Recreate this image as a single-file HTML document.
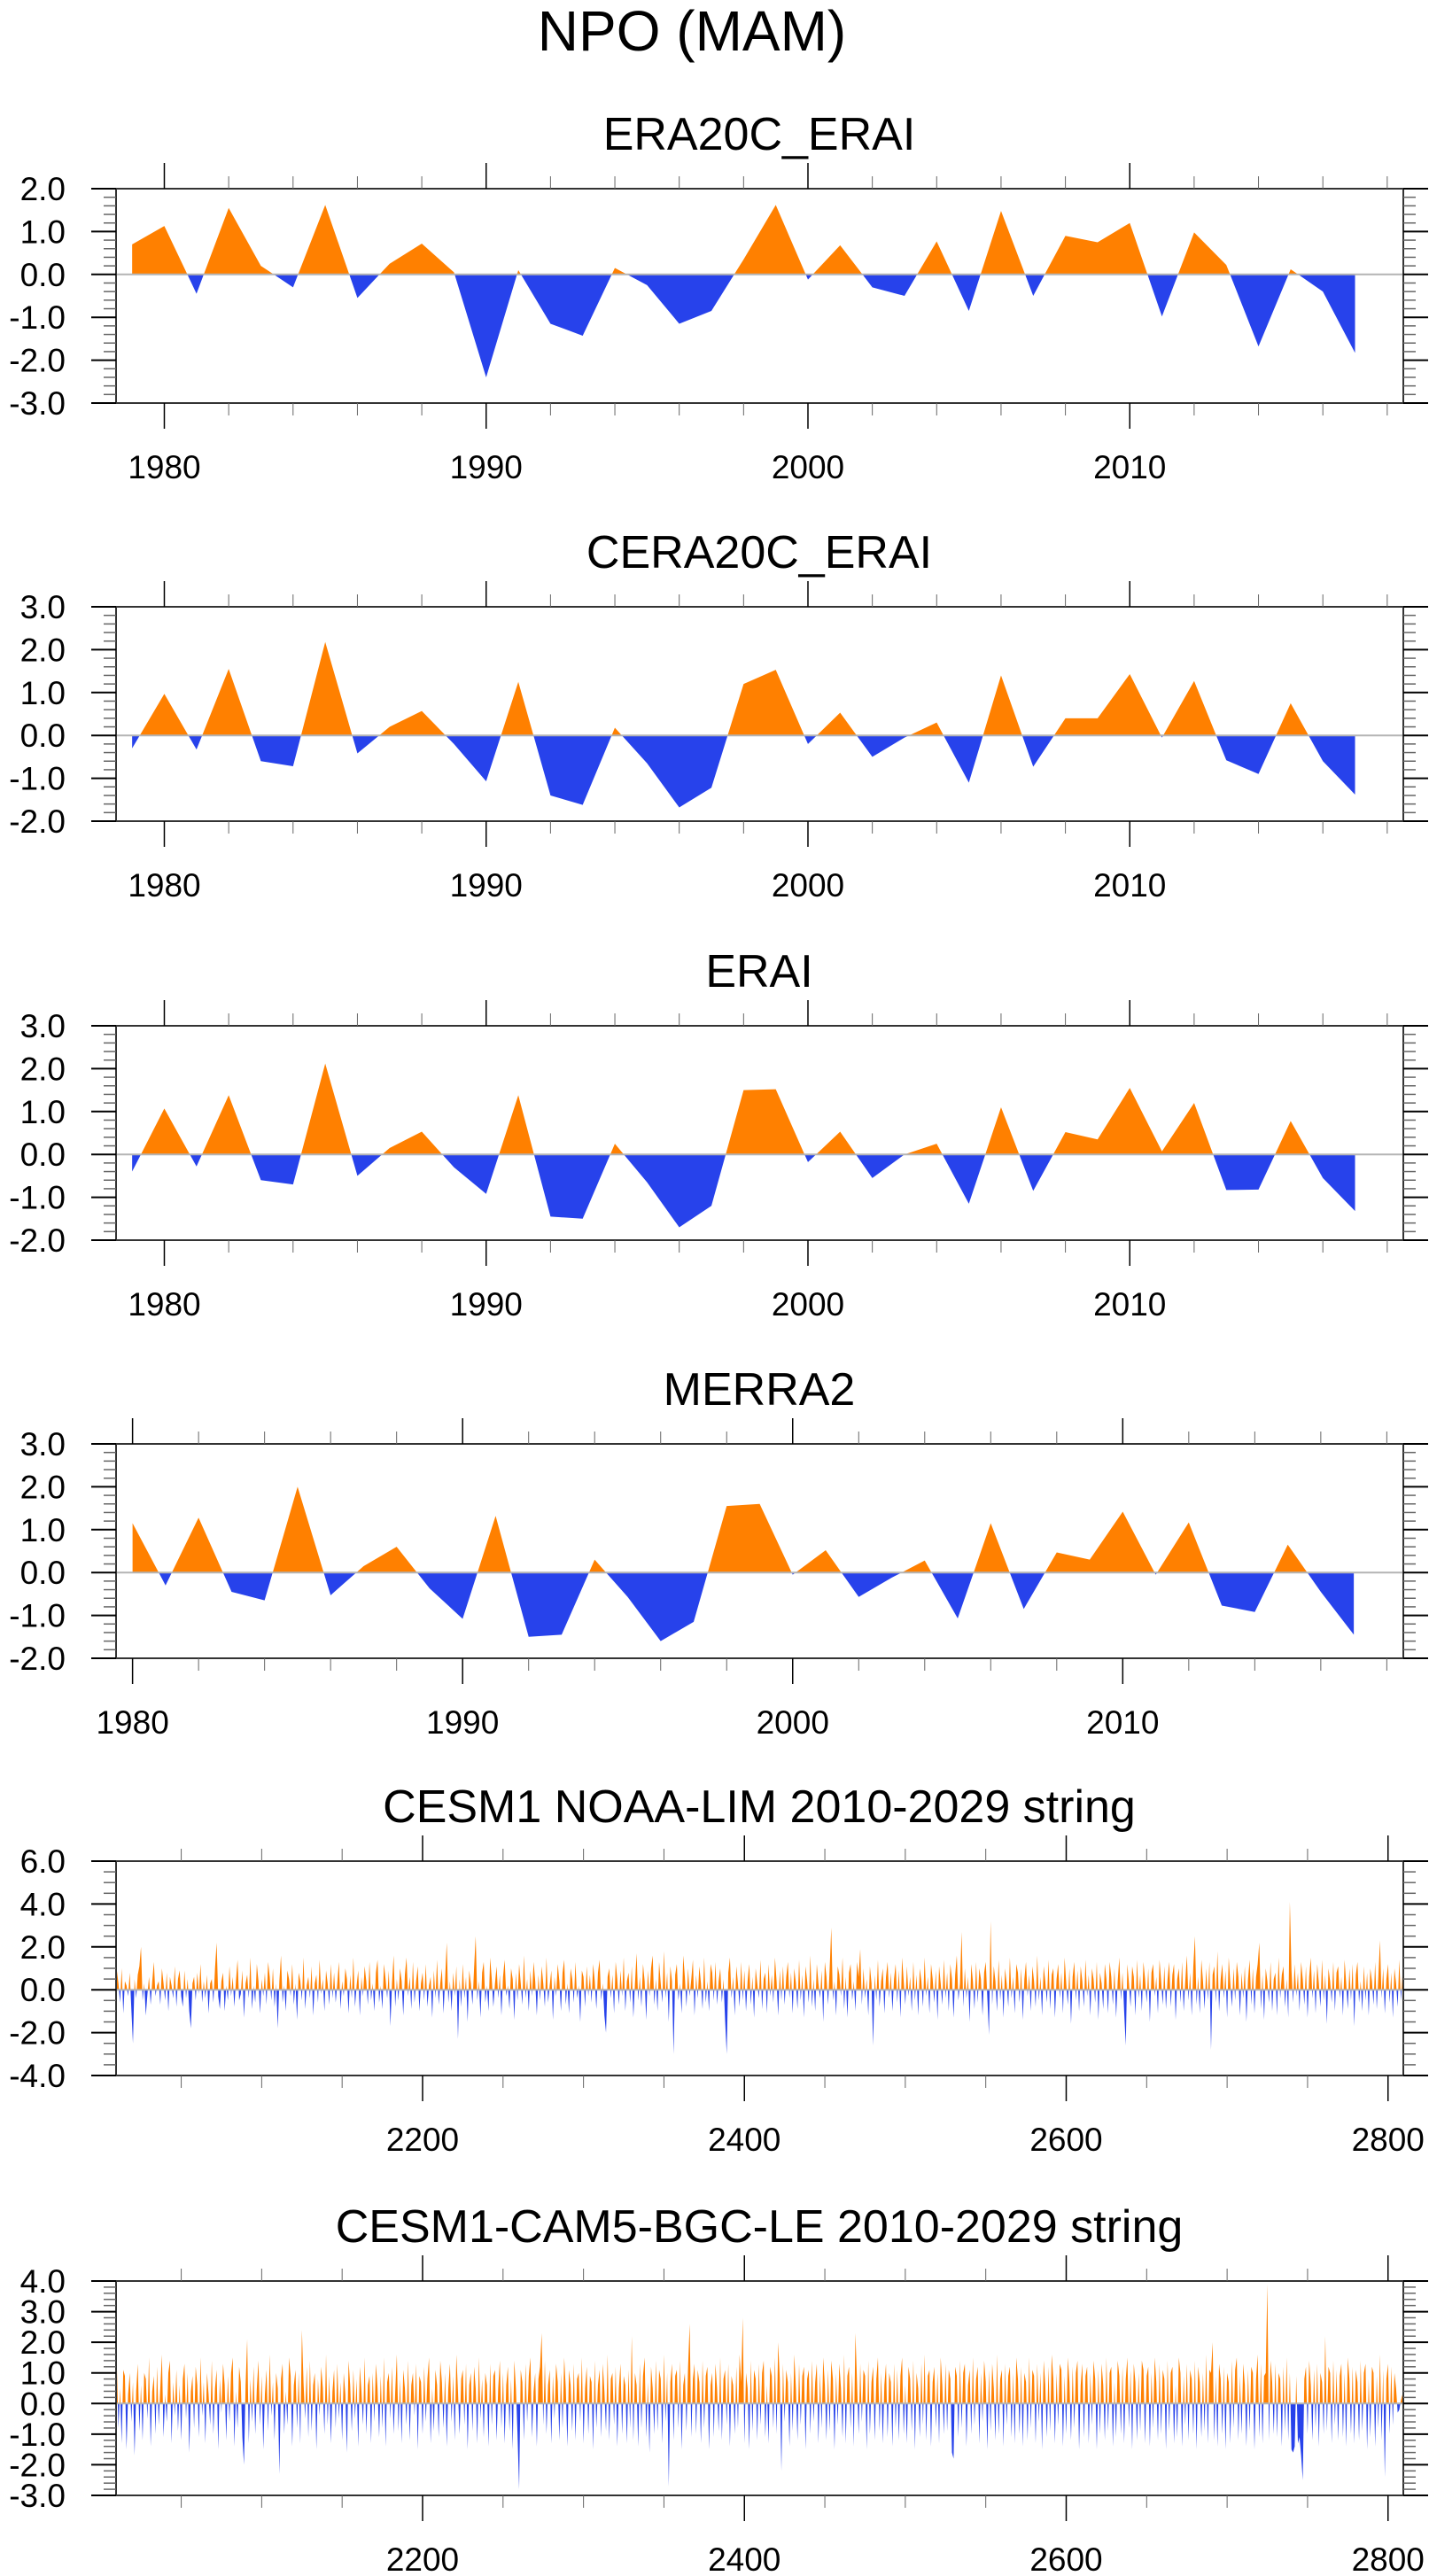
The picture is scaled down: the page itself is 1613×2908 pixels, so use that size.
<!DOCTYPE html>
<html><head><meta charset="utf-8"><style>
html,body{margin:0;padding:0;background:#fff;}
svg{display:block;font-family:"Liberation Sans",sans-serif;}
</style></head><body>
<svg id="chart" xmlns="http://www.w3.org/2000/svg" width="1613" height="2908" viewBox="0 0 1613 2908">
<rect width="1613" height="2908" fill="#fff"/>
<text x="781" y="57" font-size="64" text-anchor="middle" fill="#000">NPO (MAM)</text>
</svg>
<script>
// ---- data ----
const p1Years = [1979,1980,1981,1982,1983,1984,1985,1986,1987,1988,1989,1990,1991,1992,1993,1994,1995,1996,1997,1998,1999,2000,2001,2002,2003,2004,2005,2006,2007,2008,2009,2010,2011,2012,2013,2014,2015,2016,2017];
const era20cEraiValues = [0.7,1.13,-0.45,1.55,0.2,-0.3,1.62,-0.55,0.25,0.72,0.05,-2.4,0.1,-1.15,-1.43,0.15,-0.25,-1.15,-0.85,0.35,1.62,-0.12,0.68,-0.3,-0.5,0.77,-0.85,1.48,-0.5,0.9,0.75,1.2,-0.98,0.98,0.22,-1.68,0.12,-0.4,-1.83];
const cera20cEraiValues = [-0.3,0.97,-0.33,1.55,-0.6,-0.72,2.18,-0.42,0.2,0.57,-0.2,-1.07,1.25,-1.4,-1.62,0.18,-0.65,-1.68,-1.22,1.2,1.53,-0.2,0.53,-0.5,-0.05,0.3,-1.1,1.4,-0.73,0.4,0.4,1.43,-0.05,1.27,-0.58,-0.9,0.75,-0.6,-1.38];
const eraiValues = [-0.4,1.07,-0.28,1.38,-0.6,-0.7,2.12,-0.5,0.15,0.53,-0.3,-0.92,1.38,-1.45,-1.5,0.25,-0.65,-1.7,-1.2,1.5,1.52,-0.18,0.53,-0.55,0.0,0.25,-1.15,1.1,-0.85,0.52,0.35,1.55,0.07,1.2,-0.83,-0.82,0.78,-0.55,-1.32];
const merraYears = [1980,1981,1982,1983,1984,1985,1986,1987,1988,1989,1990,1991,1992,1993,1994,1995,1996,1997,1998,1999,2000,2001,2002,2003,2004,2005,2006,2007,2008,2009,2010,2011,2012,2013,2014,2015,2016,2017];
const merra2Values = [1.15,-0.3,1.28,-0.45,-0.65,2.0,-0.53,0.15,0.6,-0.37,-1.08,1.32,-1.5,-1.45,0.3,-0.57,-1.6,-1.15,1.55,1.6,-0.05,0.52,-0.57,-0.12,0.28,-1.07,1.15,-0.85,0.47,0.3,1.42,-0.05,1.17,-0.77,-0.92,0.65,-0.45,-1.45];
const yearTickLabels = ["1980","1990","2000","2010"];
const stringTickLabels = ["2200","2400","2600","2800"];

const cesmLimValues = [
.9,.3,-.6,1.0,-1.1,.4,.2,-.3,.8,-.9,-2.5,.5,-.4,.7,1.1,2.0,-.5,.3,-1.2,-.2,.6,-.7,.4,1.3,-.3,.2,
.4,-.7,1.0,.3,-.5,.8,-1.0,.6,.2,-.4,1.1,-.8,.5,.9,-.3,
-.8,.9,-.4,.5,-1.0,-1.8,.3,.6,-.5,.8,-.2,1.2,-.6,.4,
-.4,.7,-1.1,.3,.5,-.6,1.0,2.2,-.3,-.9,.4,.8,-1.0,.2,-.5,1.1,-.3,.6,-.8,.4,1.4,-.5,-.2,.9,-1.3,.3,.7,-.4,1.5,-.9,.2,-.6,1.2,.4,-1.1,.5,-.3,.8,-.7,1.3,
.6,-.5,1.0,-.8,.3,-1.8,.4,1.6,-.6,.2,-1.0,.9,.5,-.3,1.2,-.7,.3,-1.4,.8,.4,-.5,1.5,-.9,.2,.6,-.4,1.1,-1.2,.3,.7,-.6,1.4,-.2,.5,-1.0,.9,.3,-.7,1.2,-.4,
.8,-.6,.3,1.3,-.9,.4,-.3,1.0,.5,-1.1,.7,-.4,1.5,-.8,.2,.9,-1.2,.6,-.3,1.1,.4,-.7,1.3,-.5,.3,-1.0,.8,1.4,-.6,.2,-.9,1.2,.5,-.4,.9,-1.7,.3,1.6,-.8,.5,
-.5,1.0,.4,-1.2,.7,1.5,-.3,.6,-.9,1.3,-.6,.4,1.1,-1.0,.3,.8,-.5,1.2,-.8,.2,.6,-1.3,.9,-.4,1.4,-.7,.3,1.0,-1.1,.5,2.2,-.6,.4,-1.0,.8,-.3,1.1,-2.3,.5,-.8,
1.2,-.4,.6,-1.5,.9,.3,-.7,1.0,2.5,-.5,.4,-1.3,.8,1.3,-.6,.2,-1.0,1.5,.5,-.8,.3,1.1,-.4,.7,-1.2,.6,1.4,-.3,.2,-.9,1.0,.5,-1.4,.8,-.5,1.2,.3,-.7,1.6,-.4,
.5,-1.0,.9,-.3,1.3,.4,-1.2,.7,-.5,1.1,.3,-.8,1.5,-.6,.2,.9,-1.4,.6,-.3,1.2,.4,-1.0,.8,1.4,-.7,.3,-1.1,1.0,.5,-.6,1.3,-.4,.2,-1.5,.9,.6,-.8,1.1,-.3,.7,
-.6,1.2,.4,-.9,.8,1.4,-.5,.3,-1.2,-2.0,.6,1.0,-.4,.7,-1.1,1.3,.5,-.7,.9,-.3,1.5,-1.0,.4,.8,-.6,1.1,-1.3,.3,1.7,-.5,.6,-.8,1.2,.4,-1.4,.9,-.3,1.0,1.6,-.7,
.5,-1.0,1.3,.3,-.6,1.8,-.4,.8,-1.5,1.1,.4,-3.0,.7,1.2,-.5,.3,-1.1,1.6,.6,-.8,1.0,-.3,.5,1.4,-1.2,.7,-.4,1.1,.3,-.9,1.5,-.6,.4,-1.0,1.2,.8,-.5,1.3,-.7,.4,
1.0,-.6,.5,-1.4,-3.0,.8,1.5,-.4,.6,-1.2,1.1,.3,-.8,1.3,-.5,.9,-1.0,.4,1.2,-.7,.6,-1.3,1.0,.3,-.4,1.4,-.9,.5,.8,-1.1,1.2,-.3,.7,-.6,1.5,.4,-1.2,.9,-.5,1.1,
-.7,.6,1.3,-.4,.8,-1.1,1.0,.3,-.9,1.4,-.5,.7,-1.3,1.1,.4,-.6,1.6,-.8,.5,-1.0,1.2,.3,-.4,.9,-1.5,1.3,.6,-.7,1.0,2.9,-.5,.4,-1.2,1.1,.7,-.3,1.5,-.9,.6,-1.3,
.8,1.2,-.5,.4,-1.0,1.3,.6,1.9,-.7,1.0,-.4,.5,-1.2,1.1,.3,-2.6,.7,-.5,1.4,-.8,.4,1.0,-1.1,.6,1.3,-.4,.8,-1.0,.5,1.2,-.6,.9,-1.3,1.5,.4,-.7,1.1,-.3,.6,-1.0,
1.3,-.5,.7,-1.2,1.0,.4,-.8,1.5,-.3,.6,-1.1,1.2,.5,-.6,.9,-1.4,1.1,.3,-.7,1.4,-.4,.8,-1.0,1.2,.5,-1.3,.7,1.6,-.5,.3,2.7,-.8,1.0,-.4,.6,-1.5,1.2,.4,-.9,1.3,
-.6,1.0,.5,-1.2,.8,1.3,-.4,-2.1,3.2,-.7,1.1,.4,-1.0,1.4,-.5,.7,-1.3,1.0,.3,-.8,1.5,-.4,.6,-1.1,1.2,.8,-.6,1.0,-1.4,.5,1.3,-.3,.7,-1.0,1.1,.4,-.8,1.6,-.5,.6,
-1.2,1.1,.4,-.6,1.4,-.9,.7,1.0,-1.3,.5,1.2,-.4,.8,-1.1,1.5,.3,-.7,1.0,-1.6,.6,1.3,-.5,.9,-1.0,1.1,.4,-.8,1.4,-.3,.7,-1.2,1.0,.5,-.6,1.3,-1.4,.8,.3,-.9,1.2,
.5,-1.1,1.3,.6,-.7,1.0,-1.3,.4,1.5,-.5,.8,-1.0,-2.6,1.2,.3,-.8,1.1,.6,-1.2,1.4,-.4,.7,-1.0,1.3,.5,-.6,1.0,-1.5,.8,1.2,-.3,.6,-1.1,1.4,.4,-.7,1.1,-.9,.5,1.3,
-.8,.7,1.2,-1.4,.5,1.0,-.6,1.3,-1.0,.4,1.6,-.5,.8,-1.2,1.1,2.5,-.7,.6,-1.1,1.4,.4,-.9,1.0,-.5,1.3,-2.8,.7,1.1,-.6,1.8,-1.0,.5,1.2,-.4,.9,-1.3,1.5,.3,-.8,1.0,
-.5,1.3,.6,-1.2,.8,-.4,1.1,-1.5,.5,1.4,-.7,1.0,-1.1,.6,1.2,2.2,-.9,.7,-1.4,1.0,.4,-.6,1.3,-1.0,.5,.8,-1.2,1.5,-.4,.7,1.1,-.8,.5,-1.3,4.1,.9,-.6,1.2,-.3,.8,
-1.0,1.3,.5,-.7,1.1,-1.3,.6,1.5,-.4,.9,-1.1,1.2,.3,-.8,1.4,-.5,.7,-1.6,1.0,.4,-.6,1.3,-1.0,.8,1.1,-.4,.6,-1.2,1.4,.3,-.9,1.0,-.5,1.2,-1.7,.7,1.3,-.6,.4,-1.0,
1.1,-.5,.8,-1.2,1.0,.4,-.7,1.3,-.9,.6,2.3,-.4,1.0,-1.1,.5,1.2,-.6,.8,-1.3,1.0,.3,-.8,1.4,-.5,.7
];
const cesmBgcValues = [
1.2,-.8,.5,-1.3,1.1,.9,-1.5,.3,1.0,-.6,.7,-1.7,.4,1.3,-.9,.6,-1.2,1.0,.8,-.5,1.5,-1.4,.4,.9,-1.0,1.2,-.7,.5,1.6,-1.1,.3,-.6,1.0,1.4,-1.3,.7,-.4,1.1,-.9,.6,
-1.2,.8,1.3,-.5,1.0,-1.6,.4,.9,-.8,1.2,.6,-1.1,1.5,-.4,.7,-1.3,1.0,.3,-.7,1.4,-1.0,.5,1.1,-1.5,.8,-.3,1.3,.6,-1.2,.9,-.6,1.0,1.5,-1.4,.4,-.8,1.2,.7,-1.1,-2.0,
.6,2.1,-1.3,.8,-.6,1.2,-1.0,.5,1.4,-.7,.9,-1.5,.3,1.1,-.9,1.6,-.4,.7,-1.2,1.0,.5,-2.3,.8,1.3,-1.0,.4,-.7,1.5,.9,-1.4,.6,1.1,-.8,1.0,-1.3,2.4,.7,-.5,1.2,-1.1,
1.4,-.9,.6,1.0,-1.5,.8,-.4,1.2,.5,-1.0,1.6,-.7,.9,-1.3,.4,1.1,-.8,1.3,-.5,.7,-1.2,1.0,.3,-1.6,1.4,.6,-.9,1.1,-.5,.8,-1.4,1.2,.4,-.7,1.5,-1.0,.6,.9,-1.3,1.0,
-.6,1.3,.5,-1.1,.9,-.8,1.5,-1.4,.7,1.0,-.5,1.2,-1.0,.4,1.6,-.9,.8,-1.3,1.1,.5,-.7,1.4,-1.2,.6,1.0,-.4,1.3,-1.5,.9,.7,-1.0,1.2,-.6,.8,1.5,-1.3,.5,-.9,1.1,.6,
-1.1,1.4,.7,-.8,1.0,-1.4,.5,1.3,-.6,.9,-1.2,1.6,.4,-1.0,.8,1.1,-.7,1.3,-1.5,.6,1.0,-.9,1.2,.5,-1.3,1.5,-.5,.8,-1.1,1.0,.6,-1.4,1.3,-.7,.9,1.1,-1.2,.5,1.4,-.8,
1.0,-1.3,.6,1.2,-.9,.8,-1.5,1.4,.5,-1.0,-2.8,1.1,.7,-1.2,1.3,-.6,.9,1.5,-1.1,.4,1.0,-1.4,.8,1.2,2.3,-.7,1.4,-1.0,.6,1.1,-1.3,.9,-.5,1.3,.7,-1.2,1.0,-.8,1.5,.5,
-1.4,1.1,.6,-.9,1.3,-1.2,.8,1.0,-.6,1.5,-1.3,.5,1.2,-1.0,.9,.7,-1.5,1.4,-.8,.6,1.1,-1.1,1.3,.4,-.9,1.6,-1.2,.8,1.0,-.7,1.2,-1.4,.5,1.3,-1.0,.9,.6,-1.3,1.1,-.8,
2.2,-1.2,1.0,.6,-1.4,1.3,-.8,.9,1.5,-1.1,.7,-1.6,1.2,.5,-1.0,1.4,-.9,1.1,.8,-1.3,1.6,-.6,1.0,-2.7,.7,1.3,-1.2,.9,1.1,-.8,1.4,-1.5,.6,1.0,-.9,1.2,2.6,-1.1,.8,1.3,
-1.0,1.1,.7,-1.3,1.4,-.8,.9,1.2,-1.5,.6,1.0,-1.1,1.3,.5,-.9,1.5,-1.2,.8,1.1,-.7,1.3,-1.4,.9,.6,-1.0,1.2,-.8,1.6,.7,2.8,-1.3,1.0,.5,-1.5,1.4,-.9,1.1,.8,-1.2,1.3,
-.7,1.0,1.4,-1.1,.6,-1.3,1.2,.9,-.8,1.5,-1.0,2.0,.8,-2.2,1.3,-.6,1.1,.7,-1.4,1.0,-.9,1.6,.5,-1.2,1.3,-.7,.9,1.2,-1.5,.8,1.1,-1.0,1.4,-.6,.7,1.3,-1.3,1.0,-.8,1.5,
.6,-1.2,1.1,-.9,1.4,.8,-1.5,1.0,-.7,1.3,.5,-1.1,1.6,-1.3,.9,1.2,-.8,1.0,-1.4,2.3,.7,-1.0,1.3,-.6,1.1,.9,-1.5,1.4,-1.0,.7,1.2,-1.2,.8,1.5,-.9,1.0,-1.3,.6,1.3,-1.1,
1.0,.7,-1.4,1.3,-.8,1.1,-1.2,.9,1.5,-1.0,.6,-1.3,1.2,.8,-.9,1.4,-1.5,1.0,.5,-1.1,1.3,-.7,1.6,-1.2,.9,1.1,-1.4,.7,1.2,-.8,1.0,-1.3,1.5,.6,-1.0,1.3,-.9,1.1,.8,-1.6,
-1.8,1.2,.9,-1.1,1.4,-.8,1.0,1.3,-1.4,.6,1.1,-1.0,1.5,-.7,.8,1.2,-1.3,1.0,-.6,1.4,.7,-1.5,1.1,-.9,1.3,.5,-1.2,1.6,-1.0,.8,1.1,-1.4,1.3,-.7,.9,1.2,-1.1,1.0,-1.3,1.5,
.8,-1.0,1.2,-1.4,1.0,.7,-1.2,1.5,-.8,1.1,.9,-1.3,1.3,-.6,1.0,-1.5,1.4,.6,-1.1,1.2,-.9,1.6,.8,-1.3,1.0,-.7,1.3,1.1,-1.4,.9,-1.0,1.5,.7,-1.2,1.2,-.8,1.0,1.4,-1.5,.6,
1.3,-1.1,.9,1.2,-1.3,1.0,-.7,1.4,.8,-1.5,1.1,-1.0,1.3,.6,-1.2,1.5,-.9,1.0,1.2,-1.4,.7,-1.1,1.4,.9,-1.0,1.2,-1.3,.8,1.5,-.8,1.1,-1.5,1.3,.7,-1.2,1.0,-.9,1.4,1.1,-1.3,
.9,1.2,-1.4,1.0,-.8,1.5,.7,-1.2,1.3,-1.0,1.1,.8,-1.5,1.4,-.9,1.0,1.2,-1.3,.6,-1.1,1.5,1.0,-1.4,.9,-.7,1.3,-1.2,1.1,.8,-1.0,1.4,-1.5,1.2,.7,-1.1,1.0,-.9,1.6,-1.3,1.1,
1.0,2.0,-1.2,.9,-1.4,1.3,.8,-1.0,1.2,-1.5,1.0,.7,-1.3,1.4,-.8,1.1,1.5,-1.2,.9,-1.0,1.3,.6,-1.4,1.1,-.9,1.2,1.0,-1.5,.8,1.6,-1.1,1.3,-1.3,.9,1.0,3.9,-1.2,1.4,.7,-1.0,
1.3,-1.1,1.0,.8,-1.4,1.2,-.9,1.5,-1.2,1.0,-1.5,-1.6,-1.4,.9,-1.3,-1.1,-1.7,-2.5,.8,1.2,-1.0,1.4,.6,-1.2,1.1,-.8,1.3,-1.4,1.0,.7,-1.0,2.2,-.9,1.2,1.0,-1.3,1.4,-.7,1.1,-1.2,
.9,1.3,-1.1,1.0,-1.4,1.5,.8,-1.0,1.2,-1.3,1.1,.7,-1.2,1.4,-.9,1.0,1.3,-1.5,.8,-1.1,1.2,1.0,-1.4,.9,-.8,1.6,-1.2,1.1,-2.4,.8,1.3,-1.0,1.2,-.7,1.0,.5,-.3,-.2,.1,.3
];

const NS='http://www.w3.org/2000/svg';
const svg=document.getElementById('chart');
function mk(tag,attrs,parent){const e=document.createElementNS(NS,tag);for(const k in attrs)e.setAttribute(k,attrs[k]);(parent||svg).appendChild(e);return e;}

const L=131,R=1584,H=242;
function drawPanel(cfg){
  const g=mk('g',{});
  
  
  const T=cfg.top,B=cfg.top+H;
  const sx=v=>L+(v-cfg.x0)/(cfg.x1-cfg.x0)*(R-L);
  const sy=v=>B-(v-cfg.y0)/(cfg.y1-cfg.y0)*H;
  // title
  const t=mk('text',{x:857,y:T-44,'font-size':52,'text-anchor':'middle',fill:'#000'},g);
  t.textContent=cfg.title;
  
  
  // fills
  const xs=cfg.xs, vs=cfg.vs;
  const pts=[];
  for(let i=0;i<vs.length;i++){
    if(i>0){const a=vs[i-1],b=vs[i];if((a>0&&b<0)||(a<0&&b>0)){const f=a/(a-b);pts.push([xs[i-1]+f*(xs[i]-xs[i-1]),0]);}}
    pts.push([xs[i],vs[i]]);
  }
  function poly(fn,color,nm){
    let d='M'+sx(pts[0][0]).toFixed(2)+','+sy(0).toFixed(2);
    for(const p of pts)d+='L'+sx(p[0]).toFixed(2)+','+sy(fn(p[1])).toFixed(2);
    d+='L'+sx(pts[pts.length-1][0]).toFixed(2)+','+sy(0).toFixed(2)+'Z';
    const e=mk('path',{d:d,fill:color,stroke:'none'},g);
    
    
  }
  poly(v=>Math.max(v,0),'#ff8000','positive-fill');
  poly(v=>Math.min(v,0),'#2742eb','negative-fill');
  const z=mk('line',{x1:L,x2:R,y1:sy(0),y2:sy(0),stroke:'#b4b4b4','stroke-width':2},g);
  
  
  // frame
  const fr=mk('rect',{x:L,y:T,width:R-L,height:H,fill:'none',stroke:'#333','stroke-width':2},g);
  
  
  // y ticks
  const nmin=Math.round((cfg.y1-cfg.y0)/cfg.yMinor);
  for(let k=0;k<=nmin;k++){
    const v=cfg.y0+k*cfg.yMinor;const y=sy(v);
    const major=Math.abs(v/cfg.yMajor-Math.round(v/cfg.yMajor))<1e-6;
    const len=major?28:14;
    mk('line',{x1:L-len,x2:L,y1:y,y2:y,stroke:major?'#000':'#666','stroke-width':major?2:1.5},g);
    mk('line',{x1:R,x2:R+len,y1:y,y2:y,stroke:major?'#000':'#666','stroke-width':major?2:1.5},g);
    if(major){
      const lb=mk('text',{x:74,y:y+13,'font-size':37,'text-anchor':'end',fill:'#000'},g);
      lb.textContent=(Math.abs(v)<1e-9?0:v).toFixed(1);
      
      
    }
  }
  // x ticks
  const start=Math.ceil(cfg.x0/cfg.xMinor)*cfg.xMinor;
  for(let v=start;v<=cfg.x1;v+=cfg.xMinor){
    const x=sx(v);const major=v%cfg.xMajor===0;
    const len=major?29:14;
    mk('line',{x1:x,x2:x,y1:T-len,y2:T,stroke:major?'#000':'#666','stroke-width':major?1.5:1},g);
    mk('line',{x1:x,x2:x,y1:B,y2:B+len,stroke:major?'#000':'#666','stroke-width':major?1.5:1},g);
  }
  cfg.xLabels.forEach(s=>{
    const lb=mk('text',{x:sx(+s),y:B+85,'font-size':37,'text-anchor':'middle',fill:'#000'},g);
    lb.textContent=s;
    
    
  });
}
const stringX=cesmLimValues.map((_,i)=>2010+i);
const stringX2=cesmBgcValues.map((_,i)=>2010+i);
drawPanel({name:'era20c-erai-panel',title:'ERA20C_ERAI',top:213,x0:1978.5,x1:2018.5,y0:-3,y1:2,yMajor:1,yMinor:0.2,xMajor:10,xMinor:2,xs:p1Years,vs:era20cEraiValues,xLabels:yearTickLabels});
drawPanel({name:'cera20c-erai-panel',title:'CERA20C_ERAI',top:685,x0:1978.5,x1:2018.5,y0:-2,y1:3,yMajor:1,yMinor:0.2,xMajor:10,xMinor:2,xs:p1Years,vs:cera20cEraiValues,xLabels:yearTickLabels});
drawPanel({name:'erai-panel',title:'ERAI',top:1158,x0:1978.5,x1:2018.5,y0:-2,y1:3,yMajor:1,yMinor:0.2,xMajor:10,xMinor:2,xs:p1Years,vs:eraiValues,xLabels:yearTickLabels});
drawPanel({name:'merra2-panel',title:'MERRA2',top:1630,x0:1979.5,x1:2018.5,y0:-2,y1:3,yMajor:1,yMinor:0.2,xMajor:10,xMinor:2,xs:merraYears,vs:merra2Values,xLabels:yearTickLabels});
drawPanel({name:'cesm1-noaa-lim-panel',title:'CESM1 NOAA-LIM 2010-2029 string',top:2101,x0:2009.5,x1:2809.5,y0:-4,y1:6,yMajor:2,yMinor:0.5,xMajor:200,xMinor:50,xs:stringX,vs:cesmLimValues,xLabels:stringTickLabels});
drawPanel({name:'cesm1-cam5-bgc-le-panel',title:'CESM1-CAM5-BGC-LE 2010-2029 string',top:2575,x0:2009.5,x1:2809.5,y0:-3,y1:4,yMajor:1,yMinor:0.2,xMajor:200,xMinor:50,xs:stringX2,vs:cesmBgcValues,xLabels:stringTickLabels});
</script>
</body></html>
